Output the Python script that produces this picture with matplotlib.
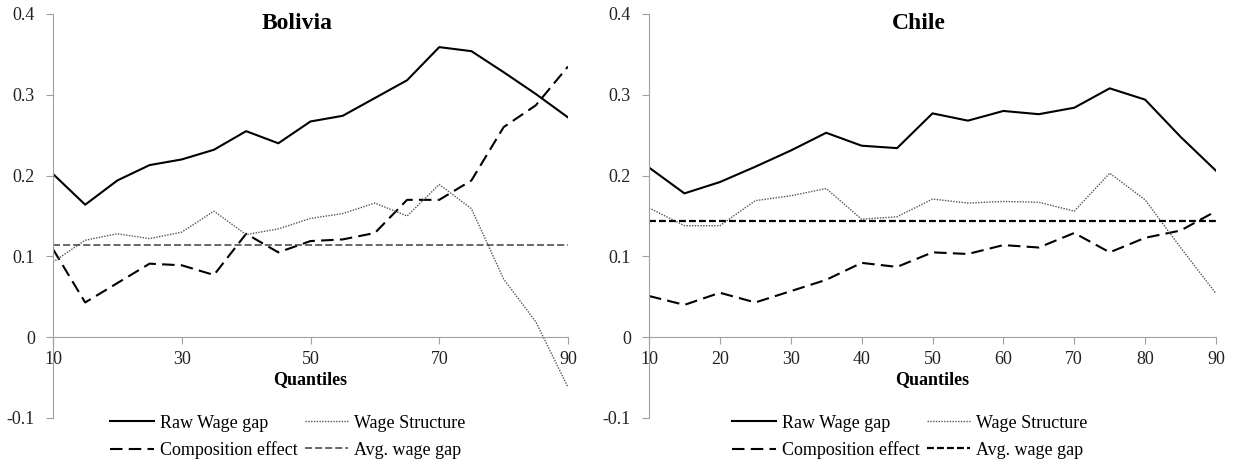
import matplotlib.pyplot as plt
import numpy as np

plt.rcParams['font.family'] = ['Liberation Serif', 'DejaVu Serif']

quantiles = [10, 15, 20, 25, 30, 35, 40, 45, 50, 55, 60, 65, 70, 75, 80, 85, 90]

# Bolivia
bol_raw = [0.202, 0.164, 0.194, 0.213, 0.220, 0.232, 0.255, 0.240, 0.267, 0.274,
           0.296, 0.318, 0.359, 0.354, 0.328, 0.301, 0.272]
bol_structure = [0.093, 0.120, 0.128, 0.122, 0.130, 0.156, 0.127, 0.134, 0.147, 0.153,
                 0.166, 0.150, 0.189, 0.159, 0.072, 0.019, -0.062]
bol_composition = [0.109, 0.043, 0.067, 0.091, 0.089, 0.077, 0.128, 0.105, 0.119, 0.121,
                   0.129, 0.170, 0.170, 0.194, 0.260, 0.287, 0.335]
bol_avg = 0.114

# Chile
chi_raw = [0.210, 0.178, 0.192, 0.211, 0.231, 0.253, 0.237, 0.234, 0.277, 0.268,
           0.280, 0.276, 0.284, 0.308, 0.294, 0.248, 0.206]
chi_structure = [0.160, 0.138, 0.138, 0.169, 0.175, 0.184, 0.146, 0.149, 0.171, 0.166,
                 0.168, 0.167, 0.156, 0.203, 0.170, 0.111, 0.054]
chi_composition = [0.051, 0.040, 0.055, 0.043, 0.057, 0.071, 0.092, 0.087, 0.105, 0.103,
                   0.114, 0.111, 0.129, 0.105, 0.123, 0.132, 0.156]
chi_avg = 0.144

y_ticks = [-0.1, 0, 0.1, 0.2, 0.3, 0.4]
y_labels = ['-0.1', '0', '0.1', '0.2', '0.3', '0.4']

fig = plt.figure(figsize=(12.35, 4.66), dpi=100)
ax1 = fig.add_axes([53 / 1235, 1 - 418 / 466, 515 / 1235, 404 / 466])
ax2 = fig.add_axes([649 / 1235, 1 - 418 / 466, 567 / 1235, 404 / 466])

panels = [
    (ax1, 'Bolivia', bol_raw, bol_structure, bol_composition, bol_avg, [10, 30, 50, 70, 90],
     '#404040', 1.1, (4.6, 2.0), 288),
    (ax2, 'Chile', chi_raw, chi_structure, chi_composition, chi_avg, list(range(10, 91, 10)),
     'black', 1.6, (3.1, 1.4), 910),
]

for ax, title, raw, struct, comp, avg, xt, avg_color, avg_lw, avg_dash, leg_x in panels:
    ax.plot(quantiles, raw, color='black', lw=1.5, label='Raw Wage gap')
    ax.plot(quantiles, comp, color='black', lw=1.5, dashes=(6, 3), label='Composition effect')
    ax.plot(quantiles, struct, color='#555555', lw=1.0, linestyle=(0, (1, 1)), label='Wage Structure')
    ax.plot([quantiles[0], quantiles[-1]], [avg, avg], color=avg_color, lw=avg_lw,
            dashes=avg_dash, label='Avg. wage gap')

    ax.set_xlim(10, 90)
    ax.set_ylim(-0.1, 0.4)
    ax.set_xticks(xt)
    ax.set_yticks(y_ticks)
    ax.set_yticklabels(y_labels)

    for s in ['top', 'right']:
        ax.spines[s].set_visible(False)
    ax.spines['bottom'].set_position(('data', 0))
    ax.spines['left'].set_color('#a0a0a0')
    ax.spines['bottom'].set_color('#a0a0a0')
    ax.tick_params(axis='both', colors='#a0a0a0', labelcolor='#222222', labelsize=13, length=5)
    ax.tick_params(axis='y', pad=8)
    ax.tick_params(axis='x', pad=5)
    ax.patch.set_visible(False)

    ax.text(48, 0.388, title, ha='center', va='center', fontsize=17, fontweight='bold')
    ax.text(50, -0.053, 'Quantiles', ha='center', va='center', fontsize=13, fontweight='bold')

    ax.legend(ncol=2, loc='center', frameon=False, fontsize=13, handlelength=2.4,
              handletextpad=0.35, columnspacing=0.4, labelspacing=0.55,
              bbox_transform=fig.transFigure,
              bbox_to_anchor=(leg_x / 1235, 1 - 437 / 466))

fig.savefig('out.png', dpi=100)
